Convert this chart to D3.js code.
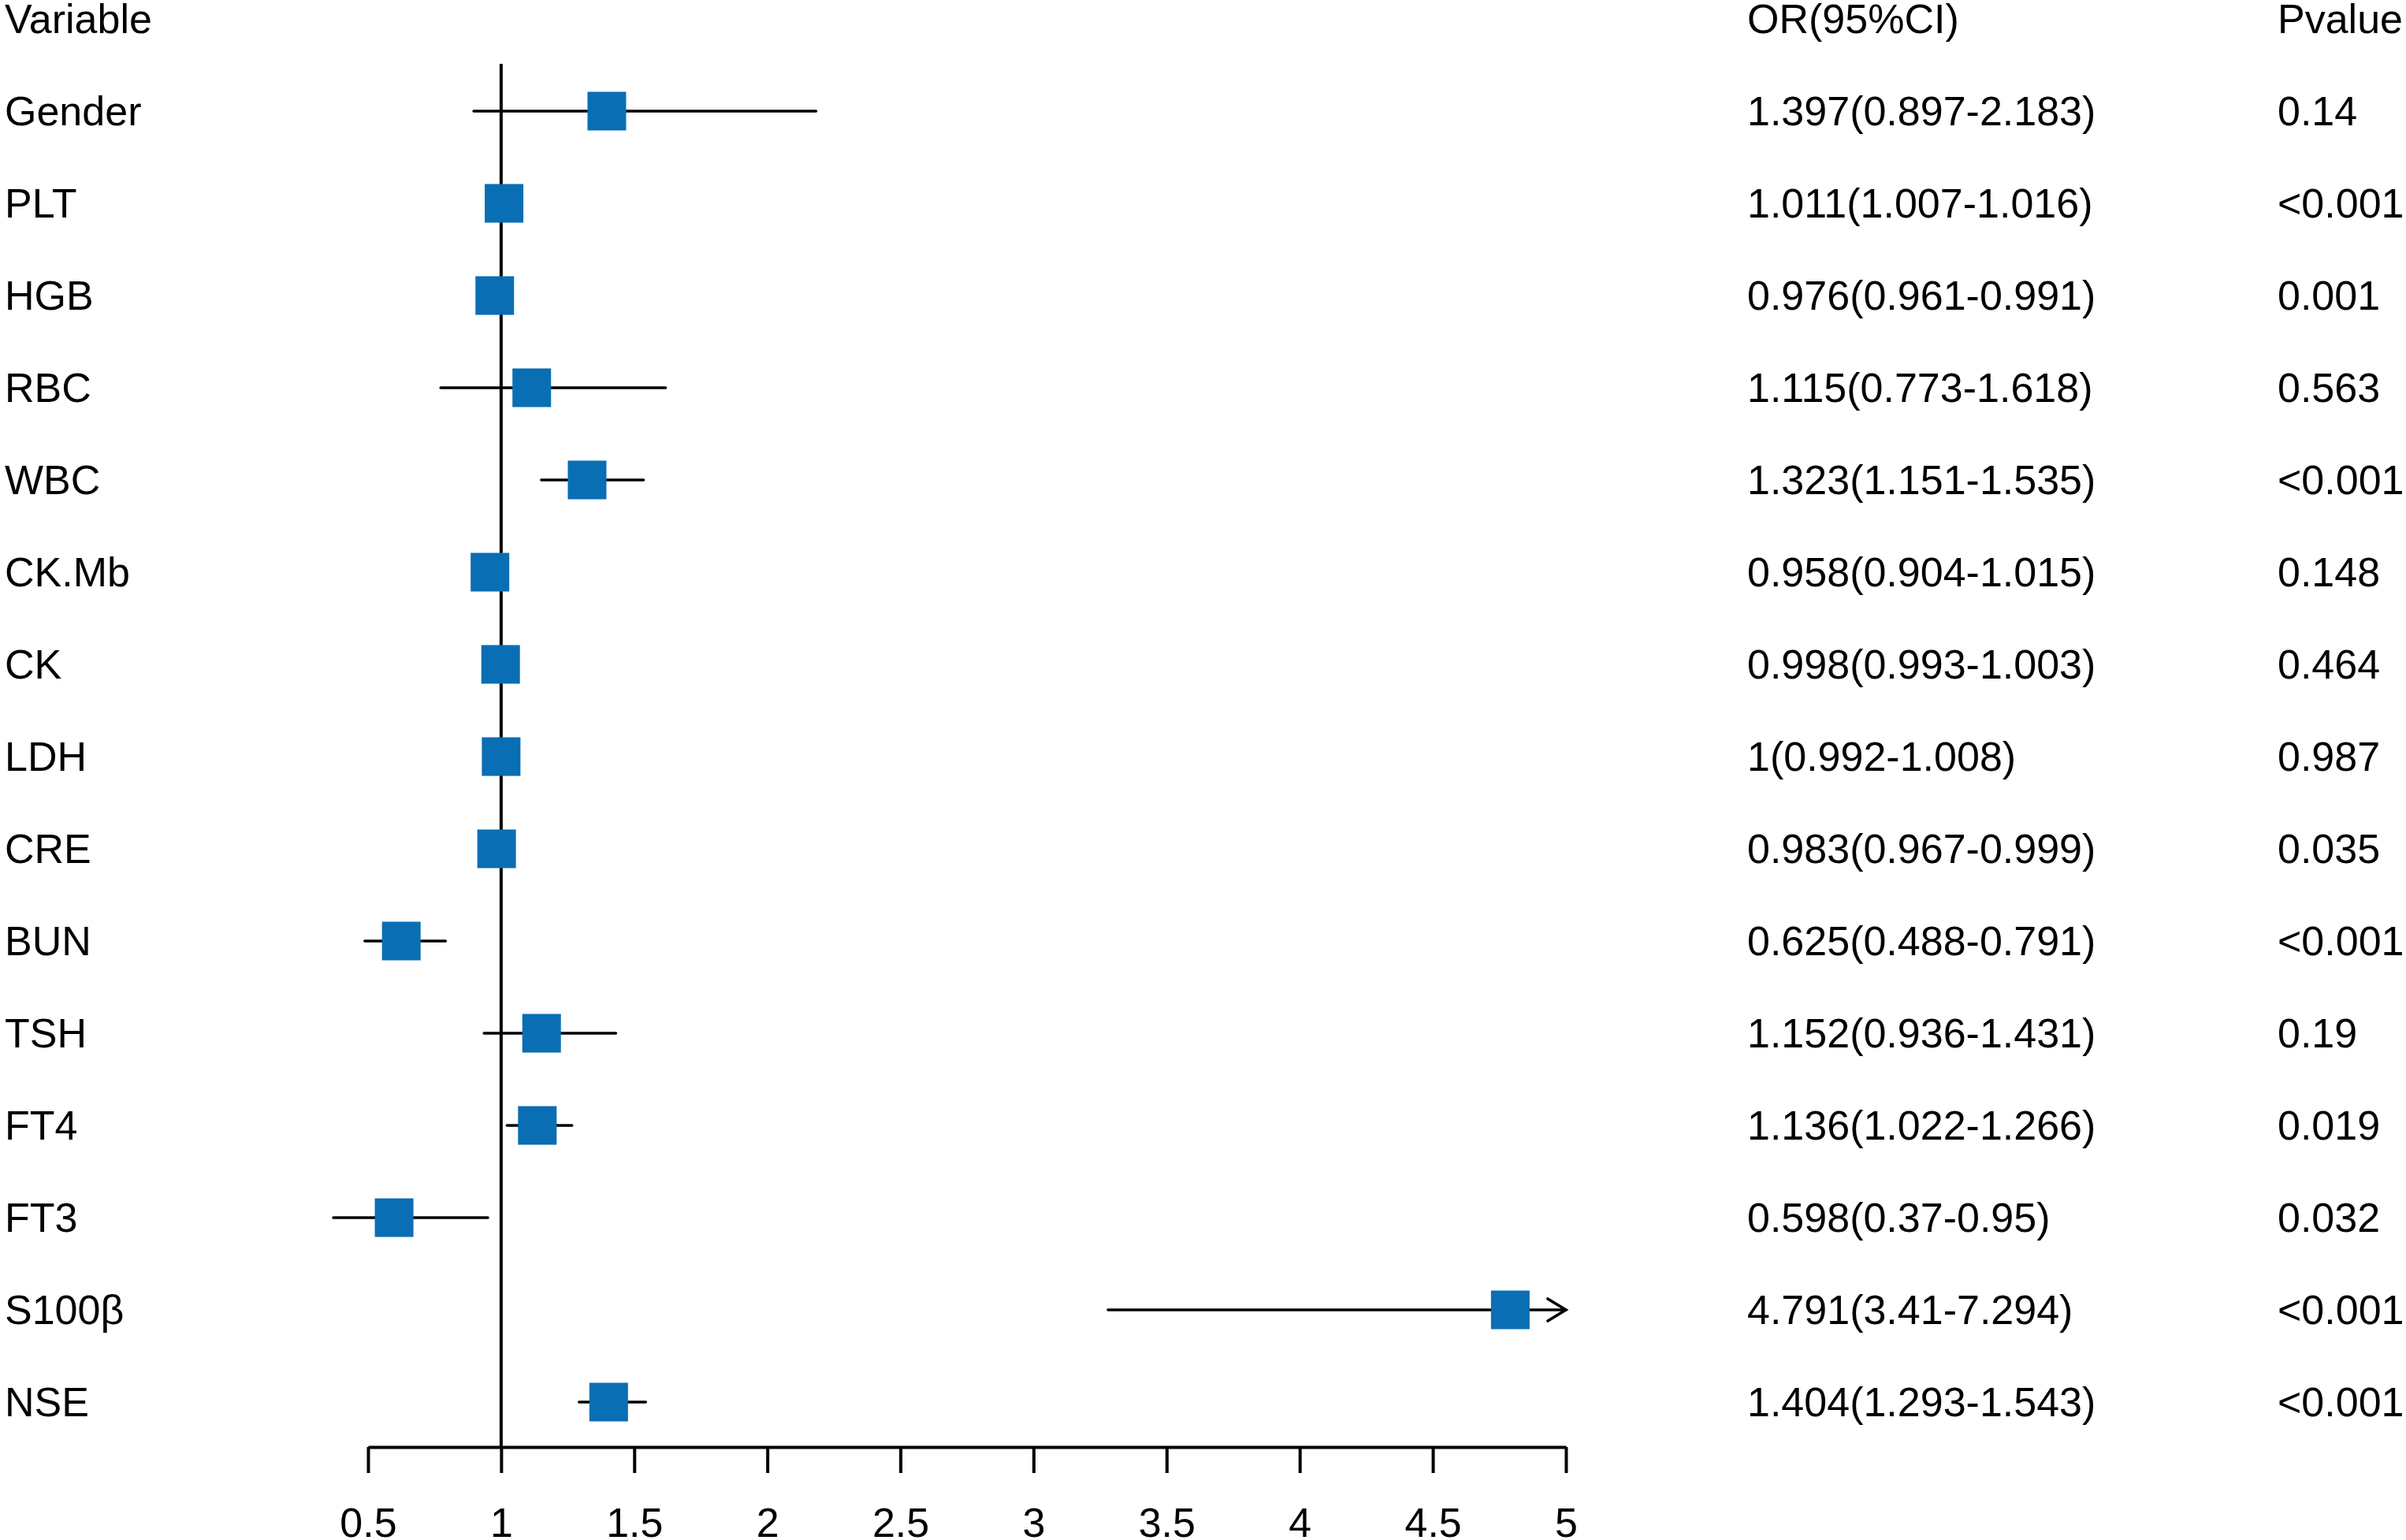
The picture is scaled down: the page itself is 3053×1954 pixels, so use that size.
<!DOCTYPE html>
<html>
<head>
<meta charset="utf-8">
<script src="https://cdn.jsdelivr.net/npm/d3@7"></script>
<style>
  html, body { margin: 0; padding: 0; background: #fff; }
  svg { display: block; }
  text { font-family: "Liberation Sans", Arial, sans-serif; font-size: 52px; fill: #000; }
</style>
</head>
<body>
<script>
// ---- data ----
const variables = ["Gender","PLT","HGB","RBC","WBC","CK.Mb","CK","LDH","CRE","BUN","TSH","FT4","FT3","S100β","NSE"];
const orValues  = [1.397,1.011,0.976,1.115,1.323,0.958,0.998,1,0.983,0.625,1.152,1.136,0.598,4.791,1.404];
const lowerCI   = [0.897,1.007,0.961,0.773,1.151,0.904,0.993,0.992,0.967,0.488,0.936,1.022,0.37,3.28,1.293];
const upperCI   = [2.183,1.016,0.991,1.618,1.535,1.015,1.003,1.008,0.999,0.791,1.431,1.266,0.95,7.294,1.543];
const orLabels  = ["1.397(0.897-2.183)","1.011(1.007-1.016)","0.976(0.961-0.991)","1.115(0.773-1.618)",
                   "1.323(1.151-1.535)","0.958(0.904-1.015)","0.998(0.993-1.003)","1(0.992-1.008)",
                   "0.983(0.967-0.999)","0.625(0.488-0.791)","1.152(0.936-1.431)","1.136(1.022-1.266)",
                   "0.598(0.37-0.95)","4.791(3.41-7.294)","1.404(1.293-1.543)"];
const pValues   = ["0.14","<0.001","0.001","0.563","<0.001","0.148","0.464","0.987","0.035","<0.001","0.19","0.019","0.032","<0.001","<0.001"];
const xTicks    = [0.5,1,1.5,2,2.5,3,3.5,4,4.5,5];
const headers   = ["Variable","OR(95%CI)","Pvalue"];

// ---- layout ----
const W = 3053, H = 1954;
const x = d3.scaleLinear().domain([0.5, 5]).range([467, 1987]);
const y = d3.scaleLinear().domain([-1, 14]).range([24, 1779]);   // -1 = header row
const axisY = 1836;
const boxSize = 49;
const blue = "#0A6EB4";
const textShift = 18; // baseline offset from row centre
const colVar = 6, colOR = 2217, colP = 2890;

const svg = d3.select("body").append("svg").attr("width", W).attr("height", H);
svg.append("rect").attr("width", W).attr("height", H).attr("fill", "#fff");

const rows = variables.map((v, i) => ({v, i, or: orValues[i], lo: lowerCI[i], hi: upperCI[i], lab: orLabels[i], p: pValues[i]}));

// headers
svg.append("text").attr("x", colVar).attr("y", y(-1) + textShift).text(headers[0]);
svg.append("text").attr("x", colOR).attr("y", y(-1) + textShift).text(headers[1]);
svg.append("text").attr("x", colP).attr("y", y(-1) + textShift).text(headers[2]);

// row text
const g = svg.append("g");
g.selectAll("text.var").data(rows).join("text").attr("class", "var")
  .attr("x", colVar).attr("y", d => y(d.i) + textShift).text(d => d.v);
g.selectAll("text.or").data(rows).join("text").attr("class", "or")
  .attr("x", colOR).attr("y", d => y(d.i) + textShift).text(d => d.lab);
g.selectAll("text.p").data(rows).join("text").attr("class", "p")
  .attr("x", colP).attr("y", d => y(d.i) + textShift).text(d => d.p);

// reference line at OR = 1
svg.append("line")
  .attr("x1", x(1)).attr("x2", x(1)).attr("y1", 81).attr("y2", axisY)
  .attr("stroke", "#000").attr("stroke-width", 4);

// CI lines (only upper side truncated at axis max, with arrow)
const xmax = x.domain()[1];
svg.append("g").selectAll("line").data(rows).join("line")
  .attr("x1", d => x(d.lo))
  .attr("x2", d => x(Math.min(d.hi, xmax)))
  .attr("y1", d => y(d.i)).attr("y2", d => y(d.i))
  .attr("stroke", "#000").attr("stroke-width", 3.6).attr("stroke-linecap", "round");

// arrows for truncated CIs
svg.append("g").selectAll("path").data(rows.filter(d => d.hi > xmax)).join("path")
  .attr("d", d => {
    const tx = x(xmax), ty = y(d.i);
    return `M${tx - 23},${ty - 14}L${tx},${ty}L${tx - 23},${ty + 14}`;
  })
  .attr("fill", "none").attr("stroke", "#000").attr("stroke-width", 3.6)
  .attr("stroke-linecap", "round").attr("stroke-linejoin", "miter");

// boxes
svg.append("g").selectAll("rect").data(rows).join("rect")
  .attr("x", d => x(d.or) - boxSize / 2)
  .attr("y", d => y(d.i) - boxSize / 2)
  .attr("width", boxSize).attr("height", boxSize)
  .attr("fill", blue);

// x axis
const axis = d3.axisBottom(x).tickValues(xTicks).tickSize(33).tickSizeOuter(0)
  .tickFormat(d3.format("~g"));
const ag = svg.append("g").attr("transform", `translate(0,${axisY})`).call(axis);
ag.select(".domain").attr("stroke", "#000").attr("stroke-width", 4);
ag.selectAll(".tick line").attr("stroke", "#000").attr("stroke-width", 4);
ag.selectAll(".tick text")
  .attr("y", 114).attr("dy", null)
  .attr("font-family", null).attr("font-size", null)
  .style("font-family", '"Liberation Sans", Arial, sans-serif').style("font-size", "52px").attr("fill", "#000");
</script>
</body>
</html>
